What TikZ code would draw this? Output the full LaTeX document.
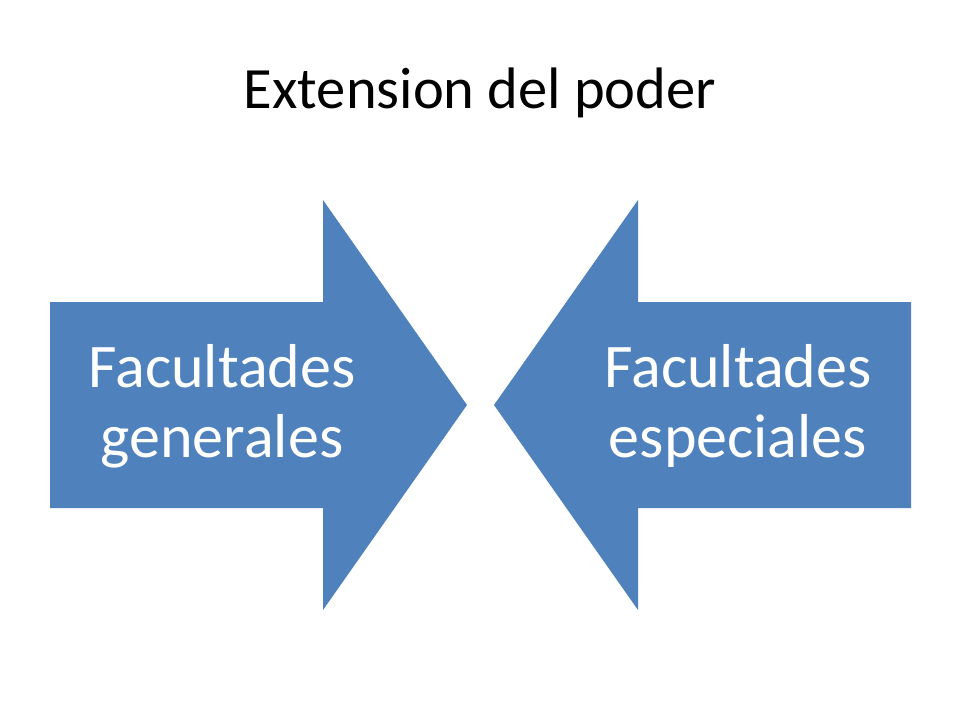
\documentclass[tikz,border=0pt]{standalone}
\usepackage{fontspec}
\setmainfont{Carlito}
\definecolor{arrowblue}{HTML}{4F81BD}
\begin{document}
\begin{tikzpicture}[x=0.02cm, y=-0.02cm,
		blockarrow/.style={fill=arrowblue, draw=none},
		arrowtext/.style={text=white, align=center, font=\fontsize{35.3}{40}\selectfont, inner sep=0pt}]

		\useasboundingbox (0,0) rectangle (960,720);

		% Title
		\node[anchor=base, font=\fontsize{33.3}{40}\selectfont, inner sep=0pt] (title) at (480,108) {Extension del poder};

		% Arrows
		\fill[blockarrow] (50,302) -- (323,302) -- (323,200) -- (467,405) -- (323,610) -- (323,508) -- (50,508) -- cycle;
		\fill[blockarrow] (911,302) -- (638,302) -- (638,200) -- (494,405) -- (638,610) -- (638,508) -- (911,508) -- cycle;

		% Labels
		\node[arrowtext] (generales) at (222,406) {Facultades\\generales};
		\node[arrowtext] (especiales) at (738,406) {Facultades\\especiales};

	\end{tikzpicture}
\end{document}
